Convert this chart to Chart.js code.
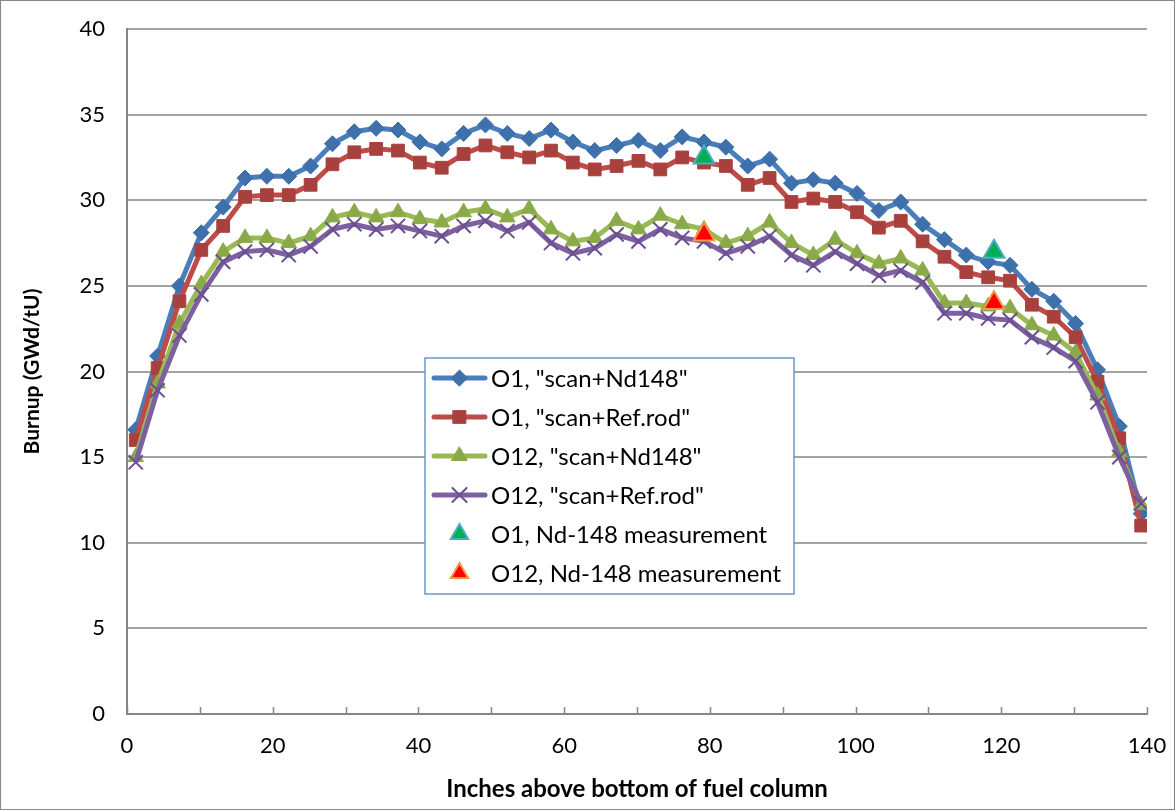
<!DOCTYPE html>
<html>
<head>
<meta charset="utf-8">
<script src="https://cdn.jsdelivr.net/npm/chart.js@4"></script>
<style>
  html, body { margin: 0; padding: 0; background: #fff; }
  #wrap { width: 1175px; height: 810px; }
</style>
</head>
<body>
<div id="wrap"><canvas id="ctx" width="1175" height="810"></canvas></div>
<script>
// inches above bottom of fuel column
const positions = [1.2, 4.2, 7.2, 10.2, 13.2, 16.2, 19.2, 22.2, 25.2, 28.2, 31.2, 34.2, 37.2, 40.2, 43.2, 46.2,
    49.2, 52.2, 55.2, 58.2, 61.2, 64.2, 67.2, 70.2, 73.2, 76.2, 79.2, 82.2, 85.2, 88.2, 91.2, 94.2,
    97.2, 100.2, 103.2, 106.2, 109.2, 112.2, 115.2, 118.2, 121.2, 124.2, 127.2, 130.2, 133.2, 136.2, 139.2];

const o1_nd148 = [16.6, 20.9, 25.0, 28.1, 29.6, 31.3, 31.4, 31.4, 32.0, 33.3, 34.0, 34.2, 34.1, 33.4, 33.0, 33.9,
    34.4, 33.9, 33.6, 34.1, 33.4, 32.9, 33.2, 33.5, 32.9, 33.7, 33.4, 33.1, 32.0, 32.4, 31.0, 31.2,
    31.0, 30.4, 29.4, 29.9, 28.6, 27.7, 26.8, 26.4, 26.2, 24.8, 24.1, 22.8, 20.1, 16.8, 11.7];

const o1_refrod = [16.0, 20.2, 24.1, 27.1, 28.5, 30.2, 30.3, 30.3, 30.9, 32.1, 32.8, 33.0, 32.9, 32.2, 31.9, 32.7,
    33.2, 32.8, 32.5, 32.9, 32.2, 31.8, 32.0, 32.3, 31.8, 32.5, 32.2, 32.0, 30.9, 31.3, 29.9, 30.1,
    29.9, 29.3, 28.4, 28.8, 27.6, 26.7, 25.8, 25.5, 25.3, 23.9, 23.2, 22.0, 19.4, 16.1, 11.0];

const o12_nd148 = [15.0, 19.3, 22.8, 25.1, 27.0, 27.8, 27.8, 27.5, 27.9, 29.0, 29.3, 29.0, 29.3, 28.9, 28.7, 29.3,
    29.5, 29.0, 29.5, 28.3, 27.6, 27.8, 28.8, 28.3, 29.1, 28.6, 28.3, 27.5, 27.9, 28.7, 27.5, 26.8,
    27.7, 26.9, 26.3, 26.6, 25.9, 24.0, 24.0, 23.8, 23.7, 22.7, 22.1, 21.1, 18.6, 15.3, 12.2];

const o12_refrod = [14.7, 18.9, 22.1, 24.5, 26.4, 27.0, 27.1, 26.8, 27.3, 28.3, 28.6, 28.3, 28.5, 28.2, 27.9, 28.5,
    28.8, 28.2, 28.7, 27.5, 26.9, 27.2, 28.0, 27.6, 28.3, 27.8, 27.6, 26.9, 27.3, 27.9, 26.8, 26.2,
    27.0, 26.3, 25.6, 25.9, 25.2, 23.4, 23.4, 23.1, 23.0, 22.0, 21.4, 20.6, 18.2, 15.0, 12.3];

// Nd-148 measurements
const meas_pos = [79.2, 119.0];
const o1_meas = [32.5, 27.0];
const o12_meas = [28.0, 24.0];

const FONT = 'Lato, "DejaVu Sans", sans-serif';

function pts(xs, ys) {
    return xs.map((x, i) => ({x: x, y: ys[i]}));
}

// white background + outer frame
const frame = {
    id: 'frame',
    beforeDraw(chart) {
        const c = chart.ctx;
        c.save();
        c.fillStyle = '#fff';
        c.fillRect(0, 0, chart.width, chart.height);
        c.restore();
    },
    afterDraw(chart) {
        const c = chart.ctx;
        c.save();
        c.strokeStyle = '#868686';
        c.lineWidth = 1;
        c.strokeRect(0.5, 0.5, chart.width - 1, chart.height - 1);
        c.restore();
    }
};

// x axis tick marks pointing into the plot
const innerTicks = {
    id: 'innerTicks',
    afterDraw(chart) {
        const sx = chart.scales.x;
        const c = chart.ctx;
        const y0 = chart.chartArea.bottom;
        c.save();
        c.strokeStyle = '#868686';
        c.lineWidth = 1.5;
        sx.ticks.forEach(t => {
            const px = Math.round(sx.getPixelForValue(t.value)) + 0.5;
            c.beginPath();
            c.moveTo(px, y0);
            c.lineTo(px, y0 - 7);
            c.stroke();
        });
        c.restore();
    }
};

// legend box drawn inside the plot
const boxLegend = {
    id: 'boxLegend',
    afterDraw(chart) {
        const c = chart.ctx;
        const bx = 425, by = 358, bw = 369, bh = 236;
        c.save();
        c.fillStyle = '#fff';
        c.fillRect(bx, by, bw, bh);
        c.strokeStyle = '#6f96c8';
        c.lineWidth = 1.5;
        c.strokeRect(bx, by, bw, bh);
        chart.data.datasets.forEach((ds, i) => {
            const y = 378 + i * 39;
            if (ds.showLine !== false) {
                c.strokeStyle = ds.borderColor;
                c.lineWidth = ds.borderWidth;
                c.lineCap = 'round';
                c.beginPath();
                c.moveTo(434, y);
                c.lineTo(485, y);
                c.stroke();
            }
            c.fillStyle = ds.pointBackgroundColor;
            c.strokeStyle = ds.pointBorderColor;
            c.lineWidth = ds.pointBorderWidth;
            Chart.helpers.drawPoint(c, {
                pointStyle: ds.pointStyle,
                radius: ds.showLine === false ? 10 : ds.pointRadius,
                rotation: 0,
                borderWidth: ds.pointBorderWidth
            }, 459.5, y);
            c.fillStyle = '#000';
            c.font = '24px ' + FONT;
            c.textBaseline = 'middle';
            c.textAlign = 'left';
            c.fillText(ds.label, 491, y + 1);
        });
        c.restore();
    }
};

const config = {
    type: 'line',
    data: {
        datasets: [
            {
                label: 'O1, "scan+Nd148"',
                data: pts(positions, o1_nd148),
                borderColor: '#4A7EBB',
                borderWidth: 5,
                pointStyle: 'rectRot',
                pointRadius: 8,
                pointBackgroundColor: '#3E70AB',
                pointBorderColor: '#3E70AB',
                pointBorderWidth: 1,
                order: 6
            },
            {
                label: 'O1, "scan+Ref.rod"',
                data: pts(positions, o1_refrod),
                borderColor: '#BE4B48',
                borderWidth: 5,
                pointStyle: 'rect',
                pointRadius: 9,
                pointBackgroundColor: '#A8413E',
                pointBorderColor: '#A8413E',
                pointBorderWidth: 1,
                order: 5
            },
            {
                label: 'O12, "scan+Nd148"',
                data: pts(positions, o12_nd148),
                borderColor: '#98B954',
                borderWidth: 5,
                pointStyle: 'triangle',
                pointRadius: 9,
                pointBackgroundColor: '#8AAA4A',
                pointBorderColor: '#8AAA4A',
                pointBorderWidth: 1,
                order: 4
            },
            {
                label: 'O12, "scan+Ref.rod"',
                data: pts(positions, o12_refrod),
                borderColor: '#7D60A0',
                borderWidth: 5,
                pointStyle: 'crossRot',
                pointRadius: 10,
                pointBackgroundColor: '#6B4F91',
                pointBorderColor: '#6B4F91',
                pointBorderWidth: 2,
                order: 3
            },
            {
                label: 'O1, Nd-148 measurement',
                data: pts(meas_pos, o1_meas),
                showLine: false,
                borderColor: '#4BACC6',
                borderWidth: 2,
                pointStyle: 'triangle',
                pointRadius: 12,
                pointBackgroundColor: '#00B050',
                pointBorderColor: '#4BACC6',
                pointBorderWidth: 2,
                order: 2
            },
            {
                label: 'O12, Nd-148 measurement',
                data: pts(meas_pos, o12_meas),
                showLine: false,
                borderColor: '#F79646',
                borderWidth: 2,
                pointStyle: 'triangle',
                pointRadius: 12,
                pointBackgroundColor: '#FF0000',
                pointBorderColor: '#F79646',
                pointBorderWidth: 2,
                order: 1
            }
        ]
    },
    options: {
        responsive: false,
        animation: false,
        devicePixelRatio: 1,
        layout: { padding: { top: 29, right: 28, bottom: 0, left: 0 } },
        plugins: {
            legend: { display: false },
            tooltip: { enabled: false }
        },
        scales: {
            x: {
                type: 'linear',
                min: 0,
                max: 140,
                afterFit: s => { s.height = 96; s.paddingLeft = 0; s.paddingRight = 0; },
                ticks: {
                    stepSize: 10,
                    autoSkip: false,
                    maxRotation: 0,
                    padding: 19,
                    color: '#000',
                    font: { family: FONT, size: 22 },
                    callback: v => (v % 20 === 0 ? v : '')
                },
                grid: { drawOnChartArea: false, drawTicks: false },
                border: { color: '#868686', width: 2 },
                title: {
                    display: true,
                    text: 'Inches above bottom of fuel column',
                    color: '#000',
                    font: { family: FONT, size: 24, weight: 'bold' },
                    padding: { top: 0, bottom: 6 }
                }
            },
            y: {
                min: 0,
                max: 40,
                afterFit: s => { s.width = 127; s.paddingTop = 0; s.paddingBottom = 0; },
                ticks: {
                    stepSize: 5,
                    padding: 22,
                    color: '#000',
                    font: { family: FONT, size: 22 }
                },
                grid: { color: '#a3a3a3', lineWidth: 2, drawTicks: false },
                border: { color: '#868686', width: 2 },
                title: {
                    display: true,
                    text: 'Burnup (GWd/tU)',
                    color: '#000',
                    font: { family: FONT, size: 21, weight: 'bold' },
                    padding: { top: 20, bottom: 0 }
                }
            }
        }
    },
    plugins: [frame, innerTicks, boxLegend]
};

const graphChart = new Chart(document.getElementById('ctx').getContext('2d'), config);
</script>
</body>
</html>
